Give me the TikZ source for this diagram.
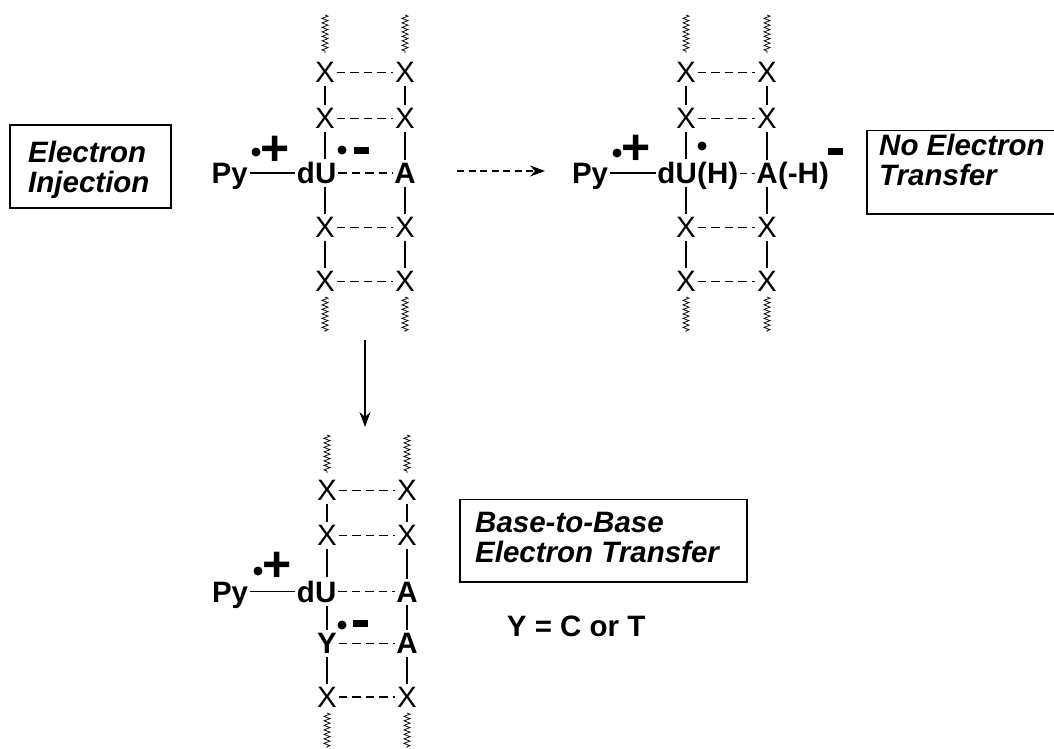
\documentclass[tikz,border=0pt]{standalone}
\usepackage{fontspec}
\setmainfont{Liberation Sans}
\usetikzlibrary{decorations.pathmorphing,arrows.meta}
\newcommand\fsz{\fontsize{29.5}{30}\selectfont}
\begin{document}
\begin{tikzpicture}[x=1pt,y=-1pt,
  bb/.style={font=\fsz\bfseries, inner xsep=1.5pt, inner ysep=3pt},
  xb/.style={font=\fsz, inner xsep=1.5pt, inner ysep=3pt, anchor=base},
  bond/.style={line width=1.3pt},
  hbond/.style={line width=1.3pt, dash pattern=on 8.5pt off 5pt},
  strand/.style={line width=0.75pt, decorate, decoration={zigzag, segment length=4.5pt, amplitude=3pt}},
  dotchg/.style={circle, fill, inner sep=0pt, minimum size=9pt},
  pluschg/.style={font=\fontsize{50}{50}\selectfont\bfseries, inner sep=0pt},
  minuschg/.style={fill, inner sep=0pt, minimum width=15pt, minimum height=7pt},
  boxframe/.style={draw, line width=1.2pt, inner sep=0pt},
  btext/.style={font=\fsz\bfseries\itshape, align=left, inner sep=0pt, anchor=north west},
  mainarrow/.style={line width=1.2pt, -{Stealth[length=15pt,width=11pt,inset=5pt]}}
]
\useasboundingbox (0,0) rectangle (1054,748);

% ===== Ladder 1 =====
\node[xb] (l1a) at (325,82.4) {X};
\node[xb] (r1a) at (405,82.4) {X};
\node[xb] (l1b) at (325,128.4) {X};
\node[xb] (r1b) at (405,128.4) {X};
\node[bb, anchor=base east] (du1) at (338,183.4) {dU};
\node[bb, anchor=base] (a1) at (405,183.4) {A};
\node[xb] (l1d) at (325,237.4) {X};
\node[xb] (r1d) at (405,237.4) {X};
\node[xb] (l1e) at (325,291.4) {X};
\node[xb] (r1e) at (405,291.4) {X};
\node[bb, anchor=base east] (py1) at (249.5,183.4) {Py};
\coordinate (l1t0) at (325,15);  \coordinate (l1t1) at (325,53);
\coordinate (r1t0) at (405,15);  \coordinate (r1t1) at (405,53);
\coordinate (l1b0) at (325,297); \coordinate (l1b1) at (325,332);
\coordinate (r1b0) at (405,297); \coordinate (r1b1) at (405,332);
\draw[strand] (l1t0) -- (l1t1);
\draw[strand] (r1t0) -- (r1t1);
\draw[strand] (l1b0) -- (l1b1);
\draw[strand] (r1b0) -- (r1b1);
\draw[bond] (l1a) -- (l1b);
\draw[bond] (l1b.south) -- (l1b.south |- du1.north);
\draw[bond] (l1d.north |- du1.south) -- (l1d.north);
\draw[bond] (l1d) -- (l1e);
\draw[bond] (r1a) -- (r1b);
\draw[bond] (r1b) -- (a1);
\draw[bond] (a1) -- (r1d);
\draw[bond] (r1d) -- (r1e);
\draw[hbond] (l1a) -- (r1a);
\draw[hbond] (l1b) -- (r1b);
\draw[hbond] (du1.east) -- (du1.east -| a1.west);
\draw[hbond] (l1d) -- (r1d);
\draw[hbond] (l1e) -- (r1e);
\draw[bond] (py1.east |- du1.west) -- (du1.west);
\node[dotchg] (d1p) at (256,152) {};
\node[pluschg] (p1) at (275,151) {+};
\node[dotchg] (d1m) at (342,150) {};
\node[minuschg] (m1) at (361,150) {};

% ===== Ladder 2 =====
\node[xb] (l2a) at (686,82.4) {X};
\node[xb] (r2a) at (767,82.4) {X};
\node[xb] (l2b) at (686,128.4) {X};
\node[xb] (r2b) at (767,128.4) {X};
\node[bb, anchor=base east] (du2) at (698.5,183.4) {dU};
\node[bb, anchor=base west] (h2) at ([xshift=-3pt]du2.base east) {(H)};
\node[bb, anchor=base] (a2) at (767,183.4) {A};
\node[bb, anchor=base west] (mh2) at ([xshift=-3pt]a2.base east) {(-H)};
\node[xb] (l2d) at (686,237.4) {X};
\node[xb] (r2d) at (767,237.4) {X};
\node[xb] (l2e) at (686,291.4) {X};
\node[xb] (r2e) at (767,291.4) {X};
\node[bb, anchor=base east] (py2) at (609.8,183.4) {Py};
\coordinate (l2t0) at (686,15);  \coordinate (l2t1) at (686,53);
\coordinate (r2t0) at (767,15);  \coordinate (r2t1) at (767,53);
\coordinate (l2b0) at (686,297); \coordinate (l2b1) at (686,332);
\coordinate (r2b0) at (767,297); \coordinate (r2b1) at (767,332);
\draw[strand] (l2t0) -- (l2t1);
\draw[strand] (r2t0) -- (r2t1);
\draw[strand] (l2b0) -- (l2b1);
\draw[strand] (r2b0) -- (r2b1);
\draw[bond] (l2a) -- (l2b);
\draw[bond] (l2b.south) -- (l2b.south |- du2.north);
\draw[bond] (l2d.north |- du2.south) -- (l2d.north);
\draw[bond] (l2d) -- (l2e);
\draw[bond] (r2a) -- (r2b);
\draw[bond] (r2b) -- (a2);
\draw[bond] (a2) -- (r2d);
\draw[bond] (r2d) -- (r2e);
\draw[hbond] (l2a) -- (r2a);
\draw[hbond] (l2b) -- (r2b);
\draw[hbond, dash pattern=on 7pt off 5pt] (h2.east |- a2.west) -- (a2.west);
\draw[hbond] (l2d) -- (r2d);
\draw[hbond] (l2e) -- (r2e);
\draw[bond] (py2.east |- du2.west) -- (du2.west);
\node[dotchg] (d2p) at (617,153) {};
\node[pluschg] (p2) at (636,150) {+};
\node[dotchg] (d2r) at (702,146) {};
\node[minuschg] (m2) at (835.5,151) {};

% ===== Ladder 3 =====
\node[xb] (l3a) at (327,500.4) {X};
\node[xb] (r3a) at (407,500.4) {X};
\node[xb] (l3b) at (327,545.4) {X};
\node[xb] (r3b) at (407,545.4) {X};
\node[bb, anchor=base east] (du3) at (338,602) {dU};
\node[bb, anchor=base] (a3a) at (407,602) {A};
\node[bb, anchor=base] (y3) at (327,653.7) {Y};
\node[bb, anchor=base] (a3b) at (407,653.7) {A};
\node[xb] (l3e) at (327,707) {X};
\node[xb] (r3e) at (407,707) {X};
\node[bb, anchor=base east] (py3) at (249.8,602) {Py};
\coordinate (l3t0) at (327,435); \coordinate (l3t1) at (327,473);
\coordinate (r3t0) at (407,435); \coordinate (r3t1) at (407,473);
\coordinate (l3b0) at (327,713); \coordinate (l3b1) at (327,748);
\coordinate (r3b0) at (407,713); \coordinate (r3b1) at (407,748);
\draw[strand] (l3t0) -- (l3t1);
\draw[strand] (r3t0) -- (r3t1);
\draw[strand] (l3b0) -- (l3b1);
\draw[strand] (r3b0) -- (r3b1);
\draw[bond] (l3a) -- (l3b);
\draw[bond] (l3b.south) -- (l3b.south |- du3.north);
\draw[bond] (y3.north |- du3.south) -- (y3.north);
\draw[bond] (y3) -- (l3e);
\draw[bond] (r3a) -- (r3b);
\draw[bond] (r3b) -- (a3a);
\draw[bond] (a3a) -- (a3b);
\draw[bond] (a3b) -- (r3e);
\draw[hbond] (l3a) -- (r3a);
\draw[hbond] (l3b) -- (r3b);
\draw[hbond] (du3.east) -- (du3.east -| a3a.west);
\draw[hbond] (y3) -- (a3b);
\draw[hbond] (l3e) -- (r3e);
\draw[bond] (py3.east |- du3.west) -- (du3.west);
\node[dotchg] (d3p) at (258,571) {};
\node[pluschg] (p3) at (277,567) {+};
\node[dotchg] (d3m) at (342,625) {};
\node[minuschg] (m3) at (360,623.5) {};

% ===== Boxes and labels =====
\node[boxframe, minimum width=161pt, minimum height=83pt] (f1) at (90.5,166.5) {};
\node[btext] (t1) at (28,140.5) {Electron\\Injection};
\node[btext] (t2) at (879,134) {No Electron\\Transfer};
\draw[line width=1.2pt] (1054,130.5) -| (867,214) -- (1054,214);
\node[boxframe, minimum width=287pt, minimum height=82.7pt] (f3) at (603.5,540.65) {};
\node[btext] (t3) at (475,512) {Base-to-Base\\Electron Transfer};
\node[bb, anchor=base west, inner sep=0pt] (yc) at (506.7,636.7) {Y = C or T};

% ===== Arrows =====
\coordinate (ha0) at (457,171); \coordinate (ha1) at (545,171);
\draw[mainarrow, dash pattern=on 7pt off 4.5pt] (ha0) -- (ha1);
\coordinate (va0) at (365,340); \coordinate (va1) at (365,427);
\draw[mainarrow] (va0) -- (va1);
\end{tikzpicture}
\end{document}
